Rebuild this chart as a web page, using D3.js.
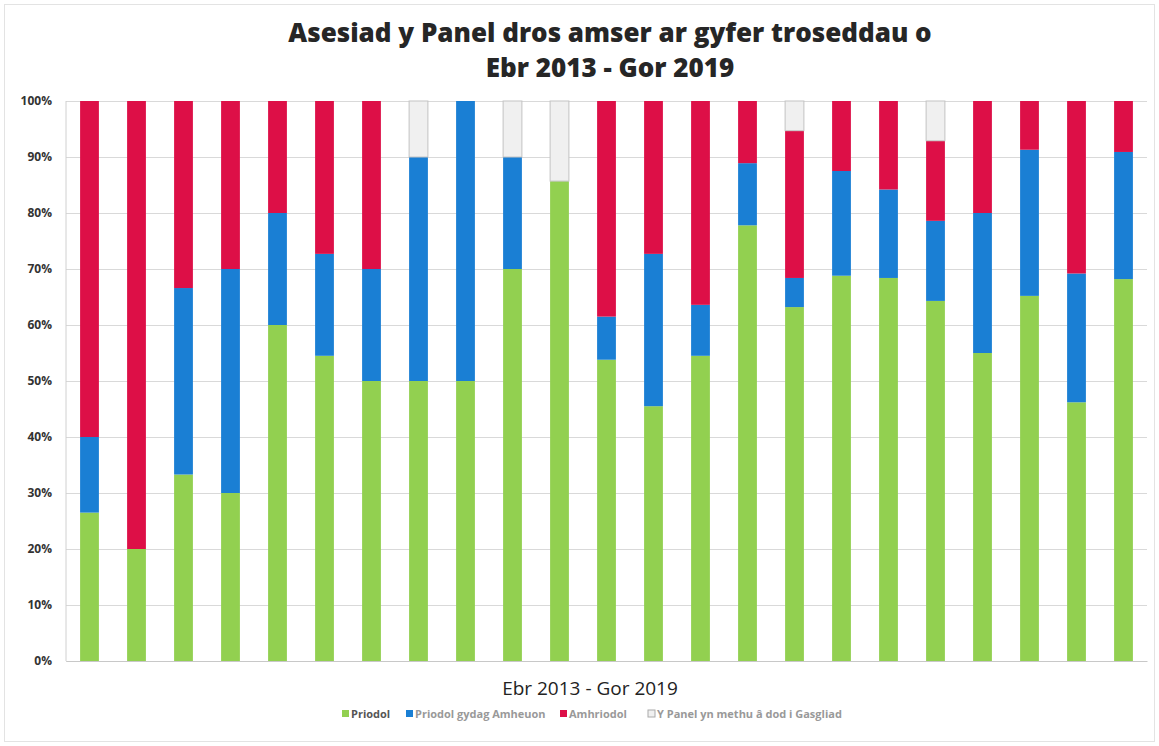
<!DOCTYPE html>
<html>
<head>
<meta charset="utf-8">
<script src="https://cdn.jsdelivr.net/npm/d3@7"></script>
<style>
  body { margin: 0; background: #fff; }
  #chart { width: 1159px; height: 746px; }
  text { font-family: "Open Sans", "Liberation Sans", sans-serif; }
</style>
</head>
<body>
<div id="chart"></div>
<script>
// one bar per period, Ebr 2013 - Gor 2019 (no labels shown on the axis)
var periods = d3.range(1, 24).map(String);

var keys = ["Priodol", "Priodol gydag Amheuon", "Amhriodol", "Y Panel yn methu â dod i Gasgliad"];

var priodol  = [26.5, 20, 33.3, 30, 60, 54.5, 50, 50, 50, 70, 85.7, 53.8, 45.5, 54.5, 77.8, 63.2, 68.8, 68.4, 64.3, 55, 65.2, 46.2, 68.2];
var amheuon  = [13.5, 0, 33.3, 40, 20, 18.2, 20, 40, 50, 20, 0, 7.7, 27.2, 9.1, 11.1, 5.2, 18.7, 15.8, 14.3, 25, 26.1, 23, 22.7];
var amhriodol = [60, 80, 33.4, 30, 20, 27.3, 30, 0, 0, 0, 0, 38.5, 27.3, 36.4, 11.1, 26.3, 12.5, 15.8, 14.3, 20, 8.7, 30.8, 9.1];
var methu    = [0, 0, 0, 0, 0, 0, 0, 10, 0, 10, 14.3, 0, 0, 0, 0, 5.3, 0, 0, 7.1, 0, 0, 0, 0];

var yTicks = [0, 10, 20, 30, 40, 50, 60, 70, 80, 90, 100];

var rows = periods.map(function(p, i) {
  return {period: p, "Priodol": priodol[i], "Priodol gydag Amheuon": amheuon[i],
          "Amhriodol": amhriodol[i], "Y Panel yn methu â dod i Gasgliad": methu[i]};
});

var width = 1159, height = 746;
var margin = {top: 101, right: 12, bottom: 85, left: 66};
var chartWidth = width - margin.left - margin.right;
var chartHeight = height - margin.top - margin.bottom;

var svg = d3.select("#chart").append("svg")
  .attr("width", width)
  .attr("height", height);

// outer frame
svg.append("rect")
  .attr("x", 4.5).attr("y", 4.5)
  .attr("width", width - 9).attr("height", height - 9)
  .attr("fill", "none").attr("stroke", "#e3e3e3");

// title
var title = svg.append("text")
  .attr("text-anchor", "middle")
  .attr("font-size", 26)
  .attr("font-weight", "800")
  .attr("fill", "#262626");
title.append("tspan").attr("x", 610).attr("y", 42).text("Asesiad y Panel dros amser ar gyfer troseddau o");
title.append("tspan").attr("x", 610).attr("y", 77).text("Ebr 2013 - Gor 2019");

var g = svg.append("g")
  .attr("transform", `translate(${margin.left}, ${margin.top})`);

var xScale = d3.scaleBand()
  .domain(periods)
  .range([0, chartWidth])
  .paddingInner(0.6)
  .paddingOuter(0.3);

var yScale = d3.scaleLinear()
  .domain([0, 100])
  .range([chartHeight, 0]);

var yAxis = d3.axisLeft(yScale)
  .tickValues(yTicks)
  .tickFormat(d => d + "%")
  .tickSize(-chartWidth)
  .tickPadding(14);

g.append("g")
  .attr("class", "y axis")
  .call(yAxis)
  .call(a => a.select(".domain").remove())
  .call(a => a.selectAll("line").attr("stroke", "#d9d9d9"))
  .selectAll("text")
    .attr("font-size", 12)
    .attr("font-weight", "bold")
    .attr("fill", "#333");

// left and bottom lines
g.append("line")
  .attr("x1", 0).attr("x2", 0)
  .attr("y1", 0).attr("y2", chartHeight)
  .attr("stroke", "#d0d0d0");

var xAxis = d3.axisBottom(xScale).tickSize(0).tickFormat("");
g.append("g")
  .attr("class", "x axis")
  .attr("transform", `translate(0,${chartHeight})`)
  .call(xAxis)
  .call(a => a.select(".domain").attr("stroke", "#c8c8c8"));

var color = d3.scaleOrdinal()
  .domain(keys)
  .range(["#92d050", "#1a7fd4", "#dd0f47", "#f0f0f0"]);

var series = d3.stack().keys(keys)(rows);

g.append("g")
  .selectAll("g")
  .data(series)
  .join("g")
    .attr("fill", d => color(d.key))
    .attr("stroke", d => d.key === keys[3] ? "#c4c4c4" : "none")
  .selectAll("rect")
  .data(d => d)
  .join("rect")
    .attr("x", d => xScale(d.data.period))
    .attr("y", d => yScale(d[1]))
    .attr("width", xScale.bandwidth())
    .attr("height", d => yScale(d[0]) - yScale(d[1]));

// x axis title
svg.append("text")
  .attr("x", 590)
  .attr("y", 695)
  .attr("text-anchor", "middle")
  .attr("font-size", 19)
  .attr("fill", "#222")
  .text("Ebr 2013 - Gor 2019");

// legend
var legendX = [342, 406, 560, 648];
var legend = svg.append("g")
  .attr("font-size", 11)
  .attr("font-weight", "bold")
  .selectAll("g")
  .data(keys)
  .join("g")
    .attr("transform", (d, i) => `translate(${legendX[i]},718)`);

legend.append("rect")
  .attr("x", 0).attr("y", -8)
  .attr("width", 7).attr("height", 7)
  .attr("fill", d => color(d))
  .attr("stroke", d => d === keys[3] ? "#aaa" : "none");

legend.append("text")
  .attr("x", 9)
  .attr("y", 0)
  .attr("fill", (d, i) => i === 0 ? "#555" : "#999")
  .text(d => d);
</script>
</body>
</html>
